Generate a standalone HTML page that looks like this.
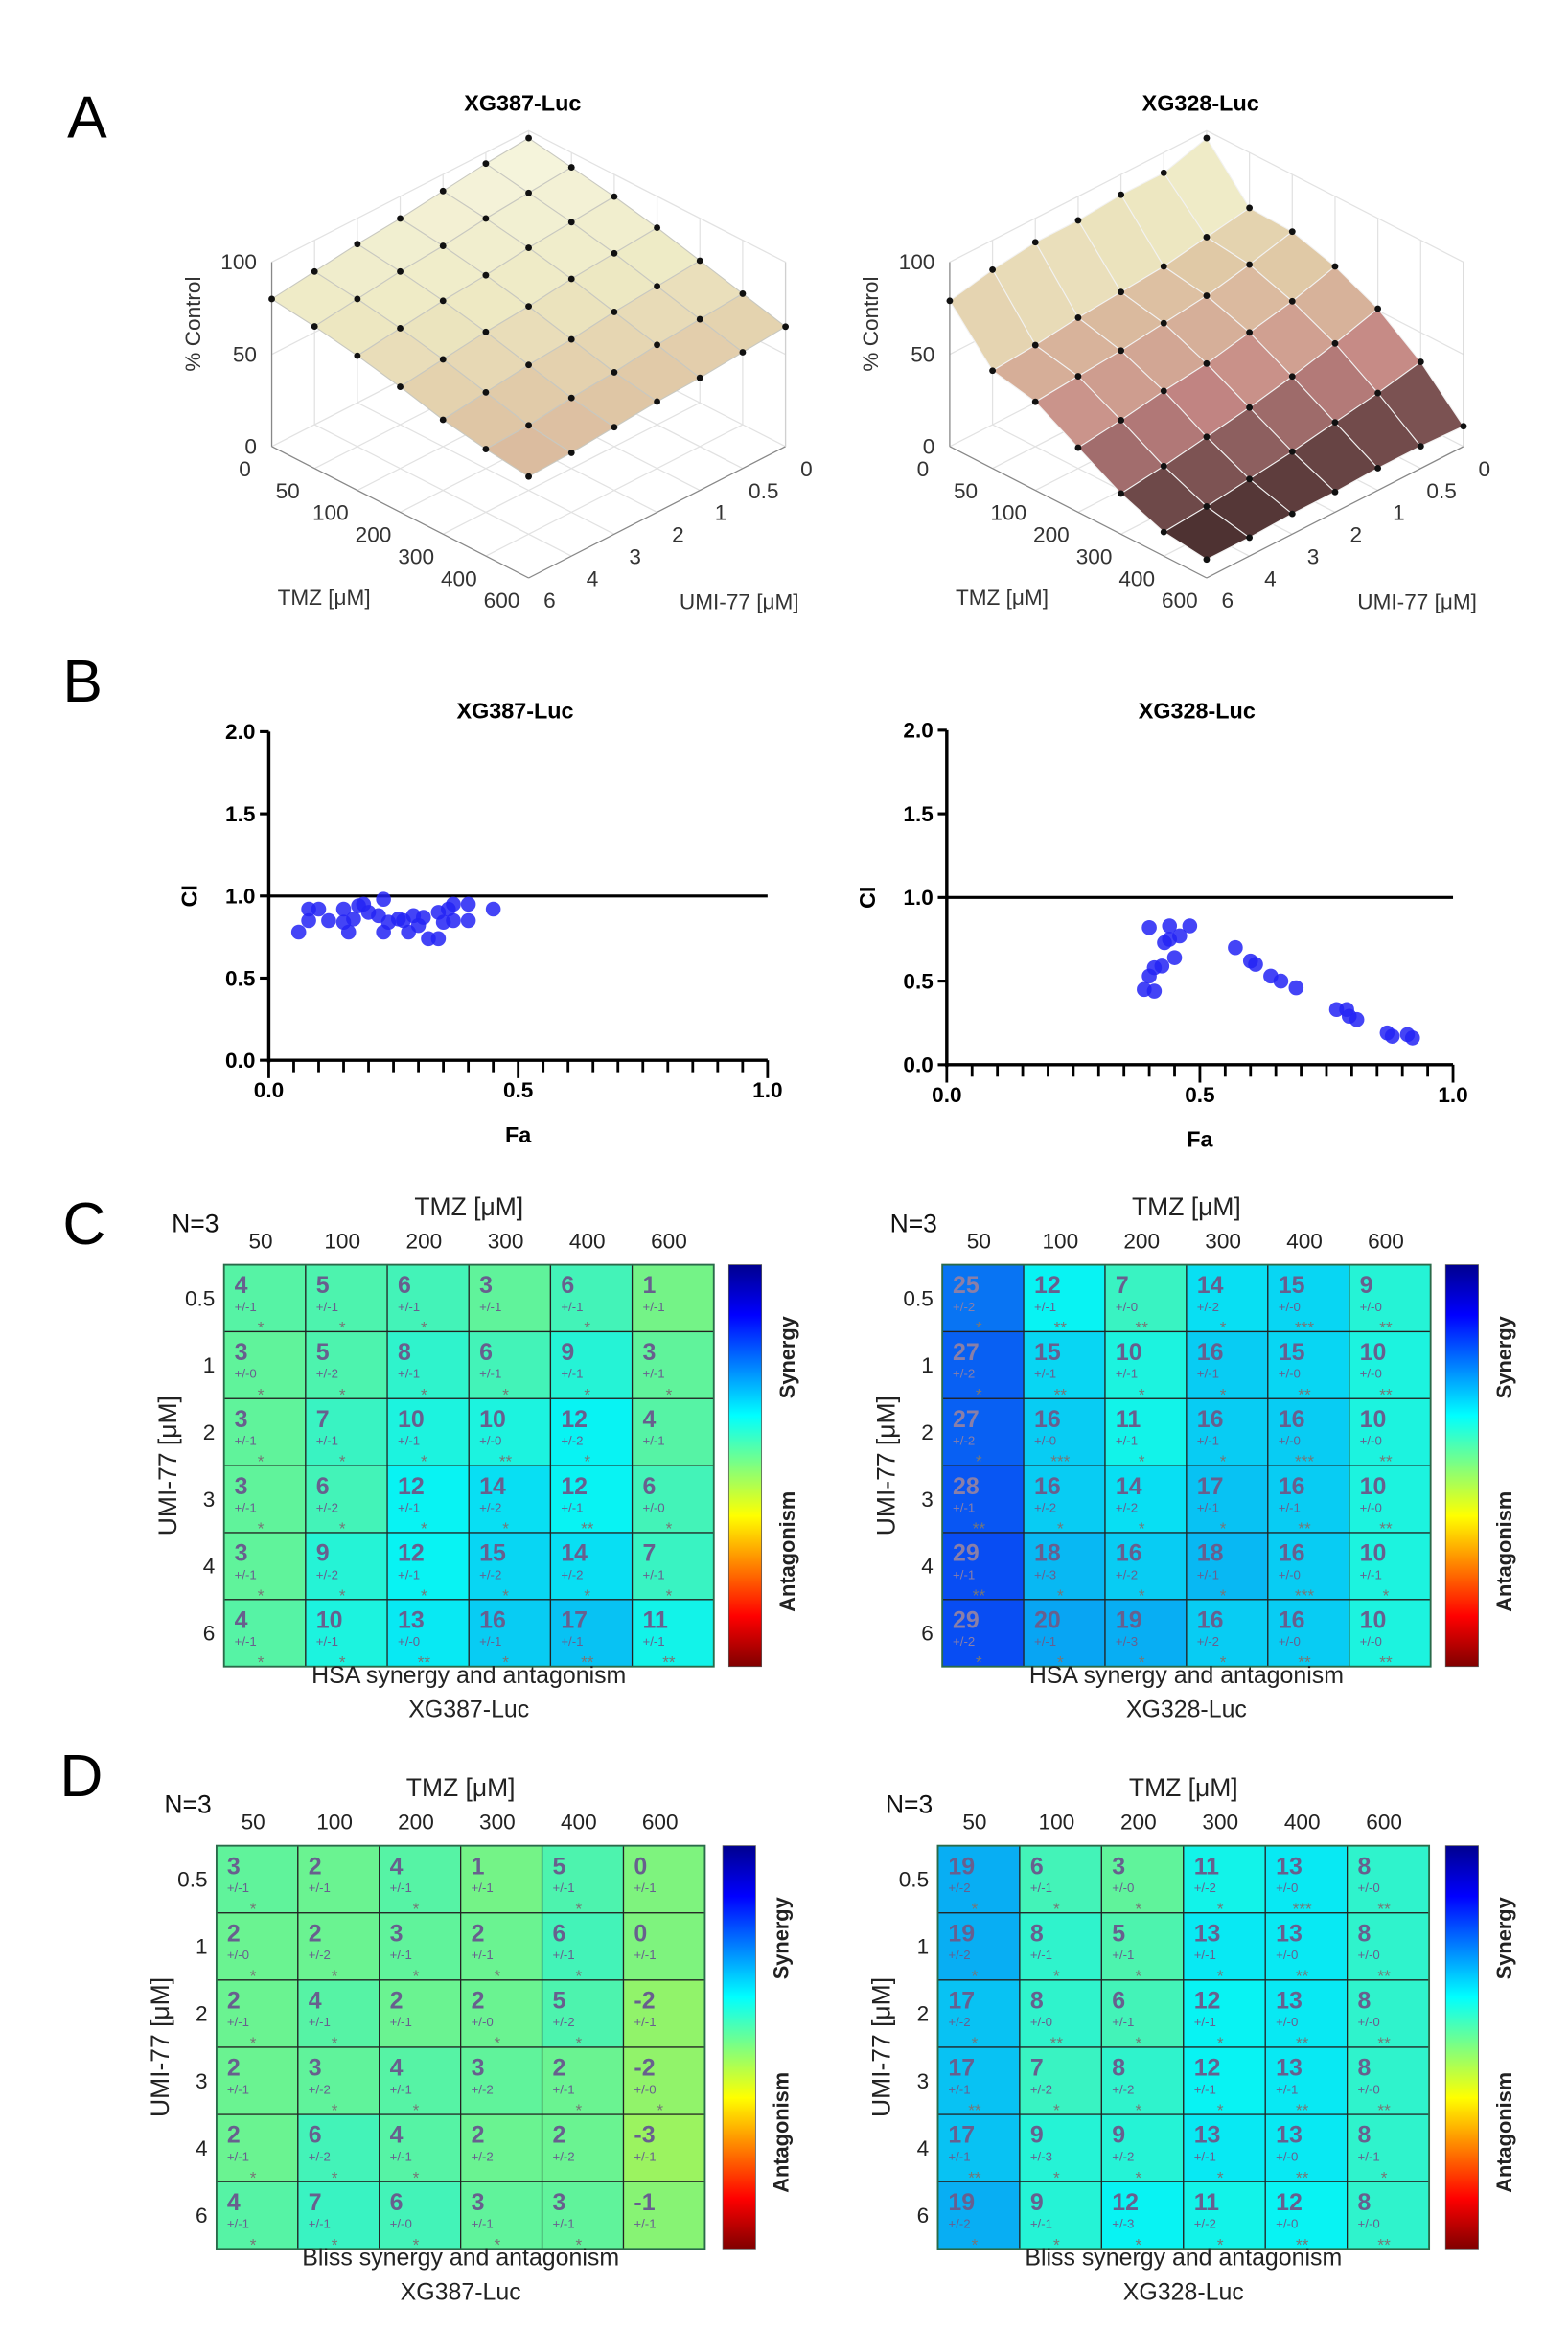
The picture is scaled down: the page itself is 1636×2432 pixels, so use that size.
<!DOCTYPE html>
<html><head><meta charset="utf-8">
<style>
html,body{margin:0;padding:0;background:#fff;}
svg{display:block;}
text{font-family:"Liberation Sans",sans-serif;}
</style></head>
<body>
<svg id="fig" width="1636" height="2432" viewBox="0 0 1050 1561" preserveAspectRatio="none" xmlns="http://www.w3.org/2000/svg">
<defs>
<linearGradient id="jet" x1="0" y1="0" x2="0" y2="1">
<stop offset="0" stop-color="#00008f"/>
<stop offset="0.125" stop-color="#0000ff"/>
<stop offset="0.375" stop-color="#00ffff"/>
<stop offset="0.625" stop-color="#ffff00"/>
<stop offset="0.875" stop-color="#ff0000"/>
<stop offset="1" stop-color="#800000"/>
</linearGradient>
</defs>
<g id="root"></g>
</svg>
<script>
// ---------- data ----------
const tmzLabels = ["0","50","100","200","300","400","600"];
const umiLabels = ["0","0.5","1","2","3","4","6"];
// % control surface, rows = TMZ index, cols = UMI index
const surfXG387 = [
 [96,94,91,88,86,83,80],
 [92,90,88,85,83,80,77],
 [88,86,84,81,79,76,73],
 [83,81,79,76,74,71,68],
 [77,75,73,70,68,65,62],
 [71,69,67,64,62,59,58],
 [65,63,61,60,58,56,55]];
const surfXG328 = [
 [96,89,89,87,87,84,79],
 [70,66,62,60,58,55,53],
 [69,63,58,55,52,50,48],
 [62,55,50,45,42,38,35],
 [51,44,38,33,29,25,22],
 [34,29,25,21,18,15,13],
 [11,12,12,11,11,10,10]];
const ciTicks = [0,0.5,1.0,1.5,2.0];
const faTicks = [0,0.5,1.0];
const faXG387 = [0.06,0.08,0.08,0.10,0.12,0.15,0.15,0.16,0.17,0.18,0.19,0.20,0.22,0.23,0.23,0.24,0.26,0.27,0.28,0.29,0.30,0.31,0.32,0.34,0.34,0.35,0.36,0.37,0.37,0.40,0.40,0.45];
const ciXG387 = [0.78,0.85,0.92,0.92,0.85,0.92,0.84,0.78,0.86,0.94,0.95,0.90,0.88,0.98,0.78,0.84,0.86,0.85,0.78,0.88,0.82,0.87,0.74,0.90,0.74,0.84,0.92,0.95,0.85,0.85,0.95,0.92];
const faXG328 = [0.40,0.44,0.48,0.46,0.44,0.43,0.45,0.425,0.41,0.40,0.39,0.41,0.57,0.60,0.61,0.64,0.66,0.69,0.77,0.79,0.795,0.81,0.87,0.88,0.91,0.92];
const ciXG328 = [0.82,0.83,0.83,0.77,0.75,0.73,0.64,0.59,0.58,0.53,0.45,0.44,0.70,0.62,0.60,0.53,0.50,0.46,0.33,0.33,0.29,0.27,0.19,0.17,0.18,0.16];
const colLabels = ["50","100","200","300","400","600"];
const rowLabels = ["0.5","1","2","3","4","6"];
const hsa387 = [[4,5,6,3,6,1],[3,5,8,6,9,3],[3,7,10,10,12,4],[3,6,12,14,12,6],[3,9,12,15,14,7],[4,10,13,16,17,11]];
const hsa387Err = [[1,1,1,1,1,1],[0,2,1,1,1,1],[1,1,1,0,2,1],[1,2,1,2,1,0],[1,2,1,2,2,1],[1,1,0,1,1,1]];
const hsa387Star = [["*","*","*","","*",""],["*","*","*","*","*","*"],["*","*","*","**","*",""],["*","*","*","*","**","*"],["*","*","*","*","*","*"],["*","*","**","*","**","**"]];
const hsa328 = [[25,12,7,14,15,9],[27,15,10,16,15,10],[27,16,11,16,16,10],[28,16,14,17,16,10],[29,18,16,18,16,10],[29,20,19,16,16,10]];
const hsa328Err = [[2,1,0,2,0,0],[2,1,1,1,0,0],[2,0,1,1,0,0],[1,2,2,1,1,0],[1,3,2,1,0,1],[2,1,3,2,0,0]];
const hsa328Star = [["*","**","**","*","***","**"],["*","**","*","*","**","**"],["*","***","*","*","***","**"],["**","*","*","*","**","**"],["**","*","*","*","***","*"],["*","*","*","*","**","**"]];
const bliss387 = [[3,2,4,1,5,0],[2,2,3,2,6,0],[2,4,2,2,5,-2],[2,3,4,3,2,-2],[2,6,4,2,2,-3],[4,7,6,3,3,-1]];
const bliss387Err = [[1,1,1,1,1,1],[0,2,1,1,1,1],[1,1,1,0,2,1],[1,2,1,2,1,0],[1,2,1,2,2,1],[1,1,0,1,1,1]];
const bliss387Star = [["*","","*","","*",""],["*","*","*","*","*",""],["*","*","","*","*",""],["","*","*","","*","*"],["*","*","*","","",""],["*","*","*","*","*",""]];
const bliss328 = [[19,6,3,11,13,8],[19,8,5,13,13,8],[17,8,6,12,13,8],[17,7,8,12,13,8],[17,9,9,13,13,8],[19,9,12,11,12,8]];
const bliss328Err = [[2,1,0,2,0,0],[2,1,1,1,0,0],[2,0,1,1,0,0],[1,2,2,1,1,0],[1,3,2,1,0,1],[2,1,3,2,0,0]];
const bliss328Star = [["*","*","*","*","***","**"],["*","*","*","*","**","**"],["*","**","*","*","**","**"],["**","*","*","*","**","**"],["**","*","*","*","**","*"],["*","*","*","*","**","**"]];

// ---------- helpers ----------
const NS="http://www.w3.org/2000/svg";
const root=document.getElementById('root');
function el(tag,attrs,parent){const e=document.createElementNS(NS,tag);for(const k in attrs)e.setAttribute(k,attrs[k]);(parent||root).appendChild(e);return e;}
function txt(s,x,y,attrs,parent){const t=el('text',Object.assign({x:x,y:y},attrs),parent);t.textContent=s;return t;}
function lerp(a,b,t){return a+(b-a)*t;}
function hex(c){return '#'+c.map(v=>Math.max(0,Math.min(255,Math.round(v))).toString(16).padStart(2,'0')).join('');}

[["A",45,92],["B",42,470],["C",42,833],["D",40,1203]].forEach(p=>{
  const t=txt(p[0],p[1],p[2],{'font-family':'"Liberation Serif",serif','font-size':40,fill:'#000'});
  
  
});

// ---------- 3D surfaces ----------
const zStops=[[0,[66,42,42]],[12,[78,50,50]],[25,[140,94,94]],[38,[196,134,132]],[50,[212,170,150]],[62,[224,200,166]],[78,[238,234,196]],[100,[248,248,230]]];
function zColor(z){for(let k=1;k<zStops.length;k++){if(z<=zStops[k][0]){const a=zStops[k-1],b=zStops[k];const t=(z-a[0])/(b[0]-a[0]);return hex([0,1,2].map(c=>lerp(a[1][c],b[1][c],t)));}}return hex(zStops[zStops.length-1][1]);}
function surface(off,title,Z,name,gridCol){
  const g=el('g',{});
  
  
  const P=(i,j,z)=>[354+off+(i-j)*28.67, 211+(i+j)*14.67-z*1.235];
  for(let k=0;k<=6;k++){
    let a=P(k,0,0),b=P(k,0,100);el('line',{x1:a[0],y1:a[1],x2:b[0],y2:b[1],stroke:'#e2e2e2','stroke-width':0.8},g);
    a=P(0,k,0);b=P(0,k,100);el('line',{x1:a[0],y1:a[1],x2:b[0],y2:b[1],stroke:'#e2e2e2','stroke-width':0.8},g);
    a=P(k,0,0);b=P(k,6,0);el('line',{x1:a[0],y1:a[1],x2:b[0],y2:b[1],stroke:'#e2e2e2','stroke-width':0.8},g);
    a=P(0,k,0);b=P(6,k,0);el('line',{x1:a[0],y1:a[1],x2:b[0],y2:b[1],stroke:'#e2e2e2','stroke-width':0.8},g);
  }
  [50,100].forEach(z=>{let a=P(6,0,z),b=P(0,0,z),c=P(0,6,z);el('polyline',{points:`${a} ${b} ${c}`,fill:'none',stroke:'#e2e2e2','stroke-width':0.8},g);});
  let a=P(0,6,0),b=P(0,6,100);el('line',{x1:a[0],y1:a[1],x2:b[0],y2:b[1],stroke:'#888','stroke-width':0.8},g);
  a=P(0,6,0);b=P(6,6,0);el('line',{x1:a[0],y1:a[1],x2:b[0],y2:b[1],stroke:'#888','stroke-width':0.8},g);
  a=P(6,0,0);b=P(6,6,0);el('line',{x1:a[0],y1:a[1],x2:b[0],y2:b[1],stroke:'#888','stroke-width':0.8},g);
  a=P(6,0,0);b=P(6,0,100);el('line',{x1:a[0],y1:a[1],x2:b[0],y2:b[1],stroke:'#d0d0d0','stroke-width':0.8},g);
  const quads=[];
  for(let i=0;i<6;i++)for(let j=0;j<6;j++)quads.push([i,j]);
  quads.sort((p,q)=>(p[0]+p[1])-(q[0]+q[1]));
  quads.forEach(([i,j])=>{
    const pts=[P(i,j,Z[i][j]),P(i+1,j,Z[i+1][j]),P(i+1,j+1,Z[i+1][j+1]),P(i,j+1,Z[i][j+1])];
    const zm=(Z[i][j]+Z[i+1][j]+Z[i+1][j+1]+Z[i][j+1])/4;
    const q=el('polygon',{points:pts.map(p=>p.join(',')).join(' '),fill:zColor(zm),stroke:gridCol,'stroke-width':0.7},g);
    
    
  });
  for(let i=0;i<=6;i++)for(let j=0;j<=6;j++){
    const p=P(i,j,Z[i][j]);
    const d=el('circle',{cx:p[0],cy:p[1],r:2.2,fill:'#111'},g);
    
    
  }
  const ta={'font-size':14.5,fill:'#333'};
  [[100,'100'],[50,'50'],[0,'0']].forEach(([z,s])=>{const p=P(0,6,z);txt(s,p[0]-10,p[1]+5,Object.assign({'text-anchor':'end'},ta),g);});
  for(let k=0;k<=6;k++){
    const p=P(k,6,0);txt(tmzLabels[k],p[0]-18,p[1]+20,Object.assign({'text-anchor':'middle'},ta),g);
    const q=P(6,k,0);txt(umiLabels[k],q[0]+14,q[1]+20,Object.assign({'text-anchor':'middle'},ta),g);
  }
  const yt=txt('% Control',0,0,Object.assign({'text-anchor':'middle',transform:`translate(${134+off},217) rotate(-90)`},ta),g);
  
  const xt=txt('TMZ [μM]',217+off,405,Object.assign({'text-anchor':'middle'},ta),g);
  
  const ut=txt('UMI-77 [μM]',495+off,408,Object.assign({'text-anchor':'middle'},ta),g);
  
  const tt=txt(title,350+off,74,{'text-anchor':'middle','font-size':15,'font-weight':'bold',fill:'#000'},g);
  
}
surface(0,'XG387-Luc',surfXG387,'surface-plot-xg387','#c8c8c0');
surface(454,'XG328-Luc',surfXG328,'surface-plot-xg328','#f2f2f2');

// ---------- CI scatter ----------
function scatter(x0,x1,y0,y1,title,fa,ci,name){
  const g=el('g',{});
  
  
  const X=v=>x0+(x1-x0)*v, Y=v=>y0-(y0-y1)*v/2;
  el('line',{x1:x0,y1:Y(2),x2:x0,y2:y0+1.5,stroke:'#000','stroke-width':2.2},g);
  el('line',{x1:x0-1,y1:y0,x2:x1,y2:y0,stroke:'#000','stroke-width':2.2},g);
  ciTicks.forEach(t=>{el('line',{x1:x0-6,y1:Y(t),x2:x0,y2:Y(t),stroke:'#000','stroke-width':2},g);
    txt(t.toFixed(1),x0-9,Y(t)+5,{'text-anchor':'end','font-size':14.5,'font-weight':'bold'},g);});
  for(let k=0;k<=20;k++){const big=k%10===0;el('line',{x1:X(k/20),y1:y0,x2:X(k/20),y2:y0+(big?12:8),stroke:'#000','stroke-width':1.8},g);}
  faTicks.forEach(t=>txt(t.toFixed(1),X(t),y0+25,{'text-anchor':'middle','font-size':14.5,'font-weight':'bold'},g));
  const ref=el('line',{x1:x0,y1:Y(1),x2:x1,y2:Y(1),stroke:'#000','stroke-width':2},g);
  
  fa.forEach((f,i)=>{const c=el('circle',{cx:X(f),cy:Y(ci[i]),r:5,fill:'#2323f5','fill-opacity':0.85},g);
    });
  txt('CI',0,0,{'text-anchor':'middle','font-size':15,'font-weight':'bold',transform:`translate(${x0-48},${Y(1)}) rotate(-90)`},g);
  txt('Fa',(x0+x1)/2,y0+55,{'text-anchor':'middle','font-size':15,'font-weight':'bold'},g);
  const t=txt(title,(x0+x1)/2-2,481,{'text-anchor':'middle','font-size':15,'font-weight':'bold'},g);
  
}
scatter(180,514,710,490,'XG387-Luc',faXG387,ciXG387,'ci-scatter-xg387');
scatter(634,973,713,489,'XG328-Luc',faXG328,ciXG328,'ci-scatter-xg328');

// ---------- heatmaps ----------
function jet(t){const c=v=>Math.max(0,Math.min(1,v));return [c(1.5-Math.abs(4*t-3)),c(1.5-Math.abs(4*t-2)),c(1.5-Math.abs(4*t-1))];}
function cellColor(v){const t=Math.max(0,Math.min(1,0.5-v/96));const c=jet(t);return hex(c.map(x=>x*235+8));}
function heat(x0,x1,y0,y1,cbx,vals,errs,stars,l1,l2,name){
  const g=el('g',{});
  
  
  const cw=(x1-x0)/6, ch=(y1-y0)/6;
  vals.forEach((row,r)=>row.forEach((v,c)=>{
    const x=x0+c*cw,y=y0+r*ch;
    const rc=el('rect',{x:x,y:y,width:cw,height:ch,fill:cellColor(v),stroke:'#222','stroke-width':0.8},g);
    
    const tc=v>=22?'#8a7fa8':'#685f8e';
    txt(String(v),x+7,y+19,{'font-size':16,'font-weight':'bold',fill:tc},g);
    txt('+/-'+errs[r][c],x+7,y+31,{'font-size':8.5,fill:tc},g);
    txt(stars[r][c],x+cw*0.45,y+ch+1,{'text-anchor':'middle','font-size':11,fill:'#777'},g);
  }));
  el('rect',{x:x0,y:y0,width:x1-x0,height:y1-y0,fill:'none',stroke:'#2a6a4a','stroke-width':1.2},g);
  colLabels.forEach((s,c)=>txt(s,x0+cw*(c+0.45),y0-11,{'text-anchor':'middle','font-size':14.5,fill:'#222'},g));
  rowLabels.forEach((s,r)=>txt(s,x0-6,y0+ch*(r+0.5)+5,{'text-anchor':'end','font-size':14.5,fill:'#222'},g));
  txt('N=3',x0-35,y0-22,{'font-size':17,fill:'#111'},g);
  txt('TMZ [μM]',(x0+x1)/2,y0-33,{'text-anchor':'middle','font-size':17,fill:'#222'},g);
  txt('UMI-77 [μM]',0,0,{'text-anchor':'middle','font-size':17,fill:'#222',transform:`translate(${x0-32},${(y0+y1)/2}) rotate(-90)`},g);
  const cb=el('rect',{x:cbx,y:y0,width:22,height:y1-y0,fill:'url(#jet)',stroke:'#555','stroke-width':0.5},g);
  
  txt('Synergy',0,0,{'text-anchor':'middle','font-size':14,'font-weight':'bold',fill:'#222',transform:`translate(${cbx+44},${y0+62}) rotate(-90)`},g);
  txt('Antagonism',0,0,{'text-anchor':'middle','font-size':14,'font-weight':'bold',fill:'#222',transform:`translate(${cbx+44},${y0+192}) rotate(-90)`},g);
  txt(l1,(x0+x1)/2,y1+11,{'text-anchor':'middle','font-size':16,fill:'#222'},g);
  txt(l2,(x0+x1)/2,y1+34,{'text-anchor':'middle','font-size':16,fill:'#222'},g);
}
heat(150,478,847,1116,488,hsa387,hsa387Err,hsa387Star,'HSA synergy and antagonism','XG387-Luc','hsa-heatmap-xg387');
heat(631,958,847,1116,968,hsa328,hsa328Err,hsa328Star,'HSA synergy and antagonism','XG328-Luc','hsa-heatmap-xg328');
heat(145,472,1236,1506,484,bliss387,bliss387Err,bliss387Star,'Bliss synergy and antagonism','XG387-Luc','bliss-heatmap-xg387');
heat(628,957,1236,1506,968,bliss328,bliss328Err,bliss328Star,'Bliss synergy and antagonism','XG328-Luc','bliss-heatmap-xg328');
</script>
</body></html>
